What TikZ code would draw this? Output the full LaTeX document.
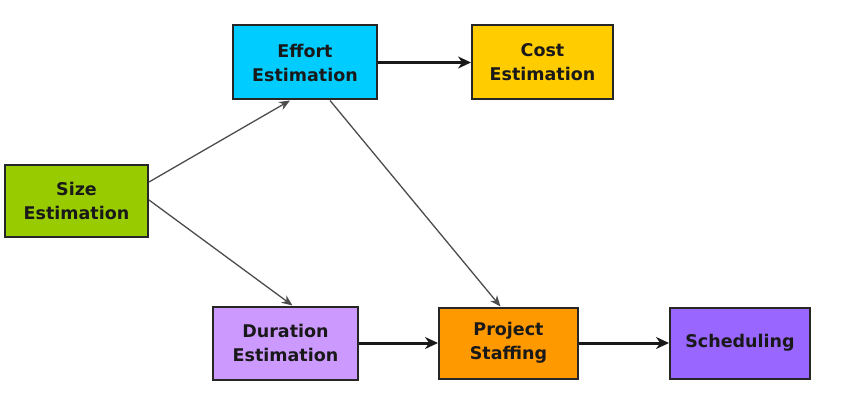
\documentclass[tikz,border=0pt]{standalone}
\usepackage{fontspec}
\setmainfont{DejaVu Sans}
\usetikzlibrary{arrows.meta}
\definecolor{cgreen}{HTML}{99CC00}
\definecolor{cblue}{HTML}{00CCFF}
\definecolor{cyellow}{HTML}{FFCC00}
\definecolor{clilac}{HTML}{CC99FF}
\definecolor{corange}{HTML}{FF9900}
\definecolor{cpurple}{HTML}{9966FF}
\begin{document}
\begin{tikzpicture}[x=1pt,y=-1pt,
  box/.style={draw=black!85, line width=2pt, minimum width=#1, minimum height=72pt,
    inner sep=0pt, align=center, font=\bfseries\fontsize{17.5}{24}\selectfont,
    text=black!90},
  box/.default=143pt,
  heavy/.style={-{Stealth[length=13pt,width=12pt]}, line width=3pt, black!90},
  thin/.style={-{Stealth[length=11pt,width=9pt]}, line width=1.3pt, black!70}]
\useasboundingbox (0,0) rectangle (841,409);
\node[box=143pt, fill=cgreen] (size) at (76.5,201) {Size\\Estimation};
\node[box=144pt, fill=cblue, minimum height=74pt] (effort) at (305,62.5) {Effort\\Estimation};
\node[box=141pt, fill=cyellow, minimum height=74pt] (cost) at (542.5,62.5) {Cost\\Estimation};
\node[box=145pt, fill=clilac, minimum height=73pt] (dur) at (285.5,343) {Duration\\Estimation};
\node[box=139pt, fill=corange, minimum height=71pt] (staff) at (508.5,343) {Project\\Staffing};
\node[box=140pt, fill=cpurple, minimum height=71pt] (sched) at (740,343) {Scheduling};
\draw[heavy] (effort.east) -- (cost.west);
\draw[heavy] (dur.east) -- (staff.west);
\draw[heavy] (staff.east) -- (sched.west);
\draw[thin] ([yshift=-18pt]size.north east) -- ([xshift=-15pt]effort.south);
\draw[thin] ([yshift=-36pt]size.north east) -- ([xshift=7pt]dur.north);
\draw[thin] ([xshift=25pt]effort.south) -- ([xshift=-8pt]staff.north);
\end{tikzpicture}
\end{document}
